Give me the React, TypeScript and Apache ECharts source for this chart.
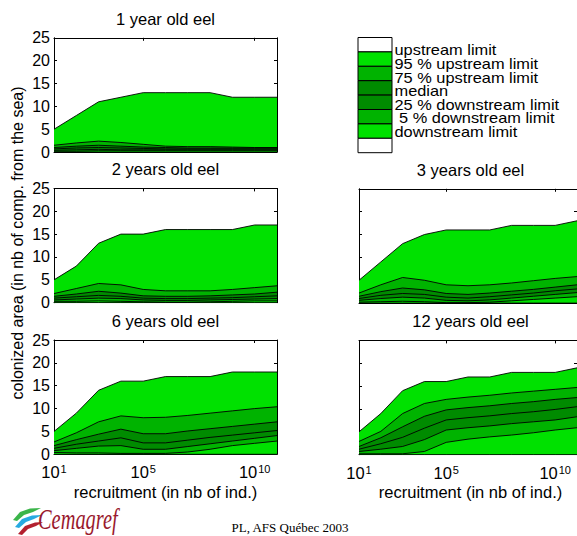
import React, { useEffect, useRef } from "react";
import * as echarts from "echarts";

// recruitment = 10^exponent
const recruitmentExp = [1, 2, 3, 4, 5, 6, 7, 8, 9, 10, 11];
const xTickExp = [1, 5, 10];
const yMax = 25;
const yStep = 5;

const panelTitles = ["1 year old eel", "2 years old eel", "3 years old eel", "6 years old eel", "12 years old eel"];
const boundaryNames = [
  "upstream limit",
  "95 % upstream limit",
  "75 % upstream limit",
  "median",
  "25 % downstream limit",
  " 5 % downstream limit",
  "downstream limit",
];

// 1 year old eel
const a1Up = [5, 8, 11, 12, 13, 13, 13, 13, 12, 12, 12];
const a1P95 = [1.5, 2.0, 2.4, 2.1, 1.7, 1.3, 1.2, 1.2, 1.1, 1.0, 1.0];
const a1P75 = [1.0, 1.3, 1.5, 1.3, 1.1, 1.0, 0.9, 0.9, 0.9, 0.9, 0.9];
const a1Med = [0.7, 0.9, 1.0, 0.9, 0.8, 0.7, 0.7, 0.7, 0.7, 0.7, 0.7];
const a1P25 = [0.4, 0.5, 0.6, 0.5, 0.5, 0.5, 0.5, 0.5, 0.5, 0.5, 0.5];
const a1P5 = [0.2, 0.2, 0.3, 0.3, 0.3, 0.3, 0.3, 0.3, 0.3, 0.3, 0.3];
const a1Down = [0, 0, 0, 0, 0, 0, 0, 0, 0, 0, 0];

// 2 years old eel
const a2Up = [5, 8, 13, 15, 15, 16, 16, 16, 16, 17, 17];
const a2P95 = [2.0, 3.1, 4.2, 3.9, 2.9, 2.6, 2.6, 2.6, 2.9, 3.3, 3.7];
const a2P75 = [1.4, 1.9, 2.5, 2.1, 1.5, 1.4, 1.4, 1.5, 1.7, 1.9, 2.3];
const a2Med = [1.0, 1.3, 1.6, 1.4, 1.0, 0.9, 0.9, 1.0, 1.1, 1.3, 1.5];
const a2P25 = [0.6, 0.8, 1.0, 0.9, 0.6, 0.5, 0.5, 0.6, 0.7, 0.8, 0.9];
const a2P5 = [0.3, 0.3, 0.4, 0.3, 0.2, 0.1, 0.1, 0.2, 0.3, 0.4, 0.4];
const a2Down = [0, 0, 0, 0, 0, 0, 0, 0, 0, 0, 0];

// 3 years old eel
const a3Up = [5, 9, 13, 15, 16, 16, 16, 17, 17, 17, 18];
const a3P95 = [2.2, 4.0, 5.6, 5.0, 4.0, 3.8, 4.0, 4.4, 4.9, 5.4, 5.8];
const a3P75 = [1.5, 2.5, 3.3, 2.9, 2.1, 1.9, 2.2, 2.6, 3.0, 3.5, 4.0];
const a3Med = [1.0, 1.7, 2.1, 1.9, 1.3, 1.1, 1.4, 1.8, 2.2, 2.7, 3.1];
const a3P25 = [0.6, 1.0, 1.3, 1.1, 0.6, 0.5, 0.7, 1.1, 1.5, 1.9, 2.3];
const a3P5 = [0.2, 0.3, 0.4, 0.3, 0.1, 0.1, 0.2, 0.5, 0.8, 1.1, 1.4];
const a3Down = [0, 0, 0, 0, 0, 0, 0, 0, 0, 0, 0];

// 6 years old eel
const a6Up = [5, 9, 14, 16, 16, 17, 17, 17, 18, 18, 18];
const a6P95 = [2.7, 4.7, 7.1, 8.4, 8.0, 8.1, 8.5, 9.0, 9.5, 10.0, 10.4];
const a6P75 = [1.9, 3.2, 4.4, 5.5, 4.5, 4.5, 5.1, 5.6, 6.1, 6.6, 7.1];
const a6Med = [1.3, 2.2, 2.9, 3.6, 2.5, 2.5, 3.1, 3.7, 4.2, 4.7, 5.2];
const a6P25 = [0.8, 1.3, 1.8, 1.9, 1.1, 1.1, 1.7, 2.3, 2.9, 3.5, 4.1];
const a6P5 = [0.4, 0.3, 0.3, 0.2, 0.2, 0.2, 0.5, 1.1, 1.9, 2.4, 2.9];
const a6Down = [0, 0, 0, 0, 0, 0, 0, 0, 0, 0, 0];

// 12 years old eel
const a12Up = [5, 9, 14, 16, 16, 17, 17, 18, 18, 18, 19];
const a12P95 = [2.9, 5.1, 9.0, 11.2, 12.1, 12.6, 13.0, 13.5, 13.9, 14.3, 14.7];
const a12P75 = [1.8, 3.7, 6.1, 8.4, 9.8, 10.3, 10.7, 11.2, 11.6, 12.1, 12.5];
const a12Med = [1.2, 2.4, 3.8, 5.8, 7.6, 8.1, 8.5, 9.0, 9.4, 9.9, 10.5];
const a12P25 = [0.7, 1.2, 1.8, 3.3, 5.4, 5.9, 6.3, 6.8, 7.2, 7.6, 8.3];
const a12P5 = [0.2, 0.2, 0.2, 0.7, 2.7, 3.4, 3.9, 4.3, 4.8, 5.4, 5.9];
const a12Down = [0, 0, 0, 0, 0, 0, 0, 0, 0, 0, 0];

const panelBoundaries = [
  [a1Up, a1P95, a1P75, a1Med, a1P25, a1P5, a1Down],
  [a2Up, a2P95, a2P75, a2Med, a2P25, a2P5, a2Down],
  [a3Up, a3P95, a3P75, a3Med, a3P25, a3P5, a3Down],
  [a6Up, a6P95, a6P75, a6Med, a6P25, a6P5, a6Down],
  [a12Up, a12P95, a12P75, a12Med, a12P25, a12P5, a12Down],
];

const BRIGHT = "#00e100";
const MED = "#00b300";
const DARK = "#008b00";
// fill of the band just below each boundary
const fillColors = [BRIGHT, MED, DARK, DARK, MED, BRIGHT, "#ffffff"];
const legendRowColors = ["#ffffff", BRIGHT, MED, DARK, DARK, MED, BRIGHT, "#ffffff"];

const layout = [
  { left: 54, top: 37.8, yLab: true, xLab: false },
  { left: 54, top: 188.4, yLab: true, xLab: false },
  { left: 359, top: 188.8, yLab: false, xLab: false },
  { left: 54, top: 340, yLab: true, xLab: true },
  { left: 359, top: 340.4, yLab: false, xLab: true },
];
const PW = 223;
const PH = 114.3;
const FONT = "Liberation Sans";

export default function App() {
  const ref = useRef<HTMLDivElement>(null);

  useEffect(() => {
    if (!ref.current) return;
    const chart = echarts.init(ref.current, null, { renderer: "svg" });
    const black = { color: "#000", width: 1 };

    const grid: any[] = [];
    const xAxis: any[] = [];
    const yAxis: any[] = [];
    const series: any[] = [];
    const graphic: any[] = [];

    layout.forEach((L, i) => {
      grid.push({ left: L.left, top: L.top, width: PW, height: PH, containLabel: false });
      const xBase = {
        gridIndex: i,
        type: "value",
        min: 1,
        max: 11,
        axisLine: { show: true, onZero: false, lineStyle: black },
        axisTick: { show: true, inside: true, length: 3, customValues: xTickExp, lineStyle: black },
        splitLine: { show: false },
      };
      xAxis.push({
        ...xBase,
        position: "bottom",
        axisLabel: {
          show: L.xLab,
          customValues: xTickExp,
          margin: 9.5,
          color: "#000",
          formatter: (v: number) => `{b|10}{s|${v}}`,
          rich: {
            b: { fontSize: 16.5, fontFamily: FONT, color: "#000" },
            s: { fontSize: 11, fontFamily: FONT, color: "#000", verticalAlign: "top", padding: [0, 0, 0, 1] },
          },
        },
      });
      xAxis.push({ ...xBase, position: "top", axisLabel: { show: false } });
      const yBase = {
        gridIndex: i,
        type: "value",
        min: 0,
        max: yMax,
        interval: yStep,
        axisLine: { show: true, onZero: false, lineStyle: black },
        axisTick: { show: true, inside: true, length: 3, lineStyle: black },
        splitLine: { show: false },
      };
      yAxis.push({
        ...yBase,
        position: "left",
        axisLabel: { show: L.yLab, margin: 4, color: "#000", fontSize: 16, lineHeight: 12, fontFamily: FONT },
      });
      yAxis.push({ ...yBase, position: "right", axisLabel: { show: false } });

      const bounds = panelBoundaries[i];
      bounds.forEach((arr, k) => {
        const data = recruitmentExp.map((x, j) => [x, arr[j]]);
        series.push({
          type: "line",
          name: boundaryNames[k],
          xAxisIndex: 2 * i,
          yAxisIndex: 2 * i,
          data,
          symbol: "none",
          silent: true,
          z: 2,
          lineStyle: { width: 0, opacity: 0 },
          areaStyle: { color: fillColors[k], opacity: 1 },
        });
      });
      bounds.forEach((arr, k) => {
        const data = recruitmentExp.map((x, j) => [x, arr[j]]);
        series.push({
          type: "line",
          name: boundaryNames[k],
          xAxisIndex: 2 * i,
          yAxisIndex: 2 * i,
          data,
          symbol: "none",
          silent: true,
          z: 3,
          lineStyle: { color: "#000", width: 0.9 },
        });
      });

      graphic.push({
        type: "text",
        x: L.left + PW / 2,
        y: L.top - 19.3,
        style: {
          text: panelTitles[i],
          align: "center",
          verticalAlign: "middle",
          font: `16.5px "${FONT}"`,
          fill: "#000",
        },
      });
      if (L.xLab) {
        graphic.push({
          type: "text",
          x: L.left + PW / 2,
          y: 492,
          style: {
            text: "recruitment (in nb of ind.)",
            align: "center",
            verticalAlign: "middle",
            font: `16.5px "${FONT}"`,
            fill: "#000",
          },
        });
      }
    });

    // y axis name
    graphic.push({
      type: "text",
      x: 17.4,
      y: 243,
      rotation: Math.PI / 2,
      style: {
        text: "colonized area (in nb of comp. from the sea)",
        align: "center",
        verticalAlign: "middle",
        font: `16px "${FONT}"`,
        fill: "#000",
      },
    });

    // legend box
    const lgX = 358;
    const lgY = 37.5;
    const lgRow = 14.4;
    legendRowColors.forEach((c, r) => {
      graphic.push({
        type: "rect",
        shape: { x: lgX, y: lgY + r * lgRow, width: 34, height: lgRow },
        style: { fill: c, stroke: "#000", lineWidth: 1 },
      });
    });
    boundaryNames.forEach((name, r) => {
      graphic.push({
        type: "text",
        x: 394.5,
        y: 50.3 + r * 13.6,
        scaleX: 1.17,
        style: {
          text: name,
          align: "left",
          verticalAlign: "middle",
          font: `14px "${FONT}"`,
          lineHeight: 13,
          fill: "#000",
        },
      });
    });

    // footer logo
    graphic.push({
      type: "polygon",
      shape: { points: [[13, 520], [20, 512], [30, 508.5], [41, 508], [33, 512], [24, 515], [17, 521]] },
      style: { fill: "#3bb54a" },
    });
    graphic.push({
      type: "polygon",
      shape: { points: [[15, 527], [22, 519], [32, 515.5], [42, 515], [34, 519], [26, 522], [19, 528]] },
      style: { fill: "#27aae1" },
    });
    graphic.push({
      type: "polygon",
      shape: { points: [[18, 534], [25, 526], [35, 522.5], [43, 522], [36, 526], [28, 529], [22, 535]] },
      style: { fill: "#b3202f" },
    });
    graphic.push({
      type: "text",
      x: 38,
      y: 519,
      scaleX: 0.68,
      style: {
        text: "Cemagref",
        align: "left",
        verticalAlign: "middle",
        font: `italic 30px "Liberation Serif"`,
        lineHeight: 26,
        fill: "#9a1a2e",
      },
    });
    graphic.push({
      type: "text",
      x: 290,
      y: 527,
      style: {
        text: "PL, AFS Québec 2003",
        align: "center",
        verticalAlign: "middle",
        font: `13px "Liberation Serif"`,
        fill: "#000",
      },
    });

    chart.setOption({
      animation: false,
      backgroundColor: "#ffffff",
      textStyle: { fontFamily: FONT },
      grid,
      xAxis,
      yAxis,
      series,
      graphic,
    });

    return () => {
      chart.dispose();
    };
  }, []);

  return (
    <div
      ref={ref}
      style={{ position: "fixed", left: 0, top: 0, width: 577, height: 536, background: "#fff" }}
    />
  );
}
